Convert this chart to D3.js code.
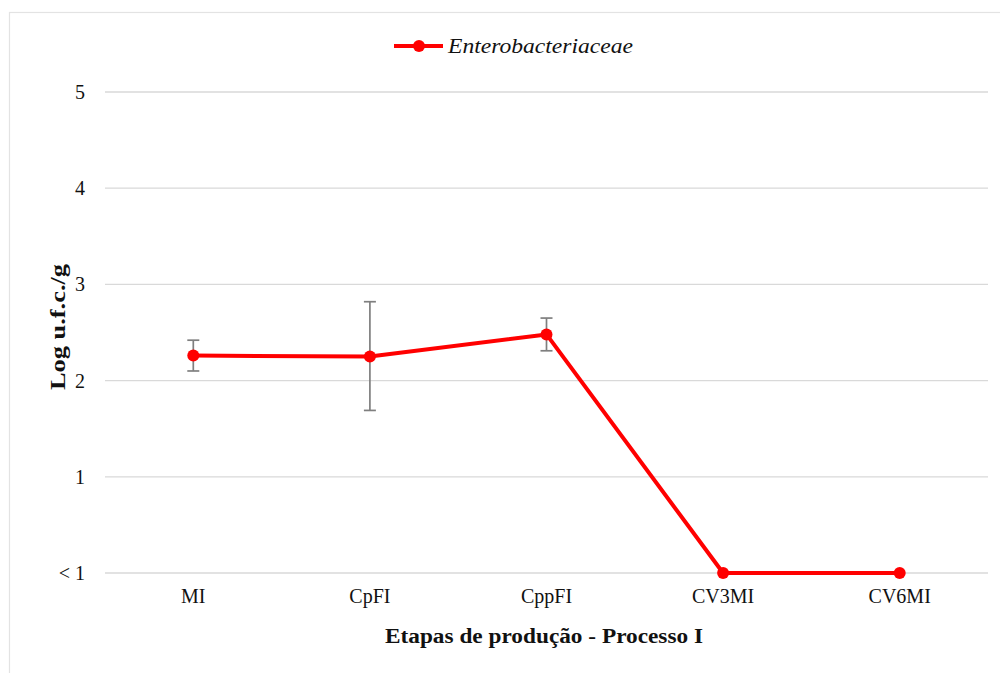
<!DOCTYPE html>
<html>
<head>
<meta charset="utf-8">
<script src="https://cdn.jsdelivr.net/npm/d3@7"></script>
<style>
  body { margin: 0; background: #fff; }
  svg text { font-family: "Liberation Serif", "Times New Roman", serif; fill: #111; }
</style>
</head>
<body>
<div id="main"></div>
<script>
var categories = ['MI', 'CpFI', 'CppFI', 'CV3MI', 'CV6MI'];
var means = [2.26, 2.25, 2.48, 0, 0];
var errLow = [2.10, 1.69, 2.31, null, null];
var errHigh = [2.42, 2.82, 2.65, null, null];
var yTicks = [0, 1, 2, 3, 4, 5];
var yTickLabels = ['< 1', '1', '2', '3', '4', '5'];
var seriesName = 'Enterobacteriaceae';

var width = 1000, height = 673;
var plotLeft = 105, plotRight = 988, plotTop = 92, plotBottom = 573;

var svg = d3.select("#main").append("svg")
    .attr("width", width)
    .attr("height", height);

// light frame around the chart
svg.append("rect")
    .attr("x", 9.5).attr("y", 12.5)
    .attr("width", 1000).attr("height", 700)
    .attr("fill", "none")
    .attr("stroke", "#e3e3e3")
    .attr("stroke-width", 1.2);

var x = d3.scaleBand().domain(categories).range([plotLeft, plotRight]);
var y = d3.scaleLinear().domain([0, 5]).range([plotBottom, plotTop]);

// grid
svg.selectAll(".grid").data(yTicks)
  .enter().append("line")
    .attr("class", "grid")
    .attr("x1", plotLeft).attr("x2", plotRight)
    .attr("y1", function(d) { return y(d); })
    .attr("y2", function(d) { return y(d); })
    .attr("stroke", "#d9d9d9")
    .attr("stroke-width", 1.3);

// y axis
var yAxis = d3.axisLeft(y)
    .tickValues(yTicks)
    .tickSize(0)
    .tickPadding(0)
    .tickFormat(function(d, i) { return yTickLabels[i]; });

var gy = svg.append("g")
    .attr("transform", "translate(85,0)")
    .call(yAxis);
gy.select(".domain").remove();
gy.selectAll("text")
    .style("font-family", "Liberation Serif")
    .style("font-size", "20px")
    .attr("fill", "#111");

// x axis
var xAxis = d3.axisBottom(x).tickSize(0).tickPadding(0);
var gx = svg.append("g")
    .attr("transform", "translate(0," + (plotBottom + 16) + ")")
    .call(xAxis);
gx.select(".domain").remove();
gx.selectAll("text")
    .style("font-family", "Liberation Serif")
    .style("font-size", "20px")
    .attr("fill", "#111");

// axis titles
svg.append("text")
    .attr("x", 544)
    .attr("y", 643)
    .attr("text-anchor", "middle")
    .attr("textLength", 318)
    .attr("lengthAdjust", "spacingAndGlyphs")
    .style("font-size", "20px")
    .style("font-weight", "bold")
    .text("Etapas de produção - Processo I");

svg.append("text")
    .attr("transform", "translate(65," + 327 + ") rotate(-90)")
    .attr("text-anchor", "middle")
    .attr("textLength", 126)
    .attr("lengthAdjust", "spacingAndGlyphs")
    .style("font-size", "20px")
    .style("font-weight", "bold")
    .text("Log u.f.c./g");

var data = categories.map(function(c, i) {
  return { cat: c, v: means[i], lo: errLow[i], hi: errHigh[i] };
});
function cx(d) { return x(d.cat) + x.bandwidth() / 2; }

// error bars
var eb = svg.selectAll(".err").data(data.filter(function(d) { return d.lo != null; }))
  .enter().append("g").attr("class", "err")
    .attr("stroke", "#7f7f7f").attr("stroke-width", 1.7);
eb.append("line")
    .attr("x1", cx).attr("x2", cx)
    .attr("y1", function(d) { return y(d.lo); })
    .attr("y2", function(d) { return y(d.hi); });
eb.append("line")
    .attr("x1", function(d) { return cx(d) - 6; }).attr("x2", function(d) { return cx(d) + 6; })
    .attr("y1", function(d) { return y(d.lo); }).attr("y2", function(d) { return y(d.lo); });
eb.append("line")
    .attr("x1", function(d) { return cx(d) - 6; }).attr("x2", function(d) { return cx(d) + 6; })
    .attr("y1", function(d) { return y(d.hi); }).attr("y2", function(d) { return y(d.hi); });

// line
var line = d3.line().x(cx).y(function(d) { return y(d.v); });
svg.append("path")
    .datum(data)
    .attr("d", line)
    .attr("fill", "none")
    .attr("stroke", "#ff0000")
    .attr("stroke-width", 4)
    .attr("stroke-linejoin", "round");

svg.selectAll(".dot").data(data)
  .enter().append("circle")
    .attr("class", "dot")
    .attr("cx", cx)
    .attr("cy", function(d) { return y(d.v); })
    .attr("r", 6)
    .attr("fill", "#ff0000");

// legend
var lg = svg.append("g").attr("transform", "translate(0,46)");
lg.append("line")
    .attr("x1", 394).attr("x2", 443)
    .attr("y1", 0).attr("y2", 0)
    .attr("stroke", "#ff0000").attr("stroke-width", 4);
lg.append("circle")
    .attr("cx", 419).attr("cy", 0).attr("r", 6)
    .attr("fill", "#ff0000");
lg.append("text")
    .attr("x", 448).attr("y", 7)
    .attr("textLength", 185)
    .attr("lengthAdjust", "spacingAndGlyphs")
    .style("font-size", "20px")
    .style("font-style", "italic")
    .text(seriesName);
</script>
</body>
</html>
